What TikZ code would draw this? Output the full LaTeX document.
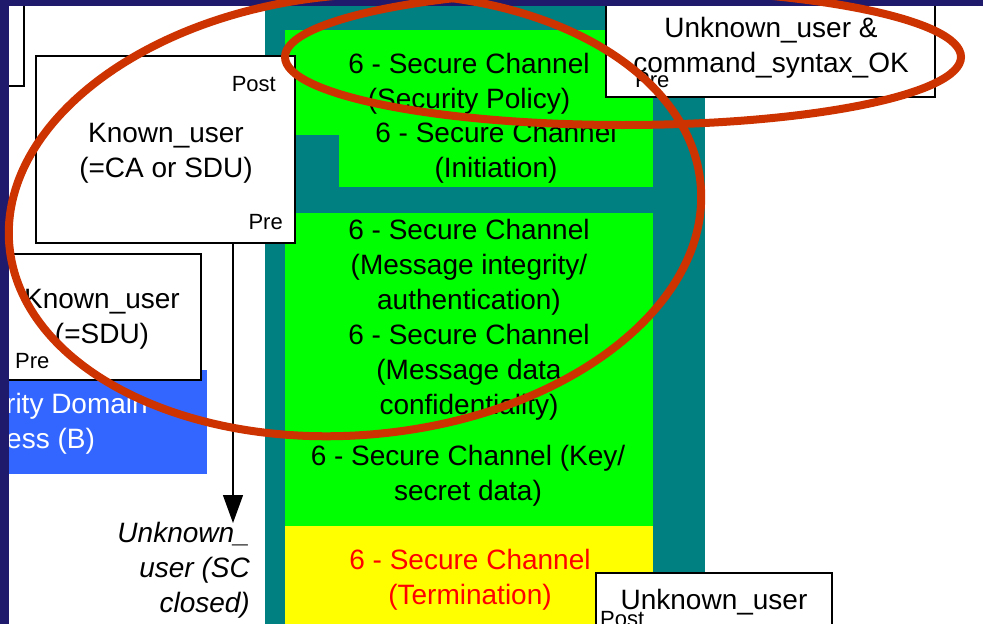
\documentclass[tikz,border=0pt]{standalone}
\usepackage{fontspec}
\setmainfont{Liberation Sans}
\usetikzlibrary{arrows.meta}
\definecolor{navy}{RGB}{31,26,108}
\definecolor{tealc}{RGB}{0,128,128}
\definecolor{greenc}{RGB}{0,255,0}
\definecolor{yellowc}{RGB}{255,255,0}
\definecolor{bluec}{RGB}{51,102,255}
\definecolor{ringred}{RGB}{204,51,0}
\tikzset{
  wbox/.style={draw=black, fill=white, line width=1.2pt},
  big/.style={font=\fontsize{28}{35}\selectfont, align=center, inner sep=0pt},
  small/.style={font=\fontsize{22}{26}\selectfont, inner sep=0pt},
  ring/.style={draw=ringred, line width=8pt},
}
\begin{document}
\begin{tikzpicture}[x=1pt,y=-1pt]
\useasboundingbox (0,0) rectangle (983,624);
\fill[white] (0,0) rectangle (983,624);
% teal column
\fill[tealc] (265,0) rectangle (705,624);
% green areas
\fill[greenc] (285,30) rectangle (653,135);
\fill[greenc] (339,110) rectangle (653,187);
\fill[greenc] (285,213) rectangle (653,526);
\fill[yellowc] (285,526) rectangle (653,624);
% texts in column
\node[big] (sp) at (469,84) {6 - Secure Channel\\(Security Policy)};
\node[big] (ini) at (496,153) {6 - Secure Channel\\(Initiation)};
\node[big] (mi) at (469,267) {6 - Secure Channel\\(Message integrity/\\authentication)};
\node[big] (md) at (469,372) {6 - Secure Channel\\(Message data\\confidentiality)};
\node[big] (ks) at (468,476) {6 - Secure Channel (Key/\\secret data)};
\node[big, text=red] (term) at (470,580) {6 - Secure Channel\\(Termination)};
% top-left partial box
\draw[wbox] (-5,-5) rectangle (24,86);
% blue box
\fill[bluec] (0,370) rectangle (207,474);
\node[big, text=white, align=left, anchor=west] (sd) at (6,424) {rity Domain\\ess (B)};
% Known_user (=SDU)
\draw[wbox] (-5,254) rectangle (201,380);
\node[big] (ku2) at (102,319) {Known\_user\\(=SDU)};
\node[small, anchor=base west] (pre2) at (15,368) {Pre};
% Known_user (=CA or SDU)
\node[wbox, minimum width=259pt, minimum height=187pt, inner sep=0pt] (ku1) at (165.5,149.5) {};
\node[big] (ku1t) at (166,153) {Known\_user\\(=CA or SDU)};
\node[small, anchor=base east] (post1) at (276,91) {Post};
\node[small, anchor=base east] (pre1) at (283,229) {Pre};
% arrow
\coordinate (arrEnd) at (233,523);
\draw[line width=1.2pt, -{Triangle[width=20pt,length=28pt]}] (ku1.south -| arrEnd) -- (arrEnd);
\node[big, align=right, anchor=east, font=\fontsize{28}{35}\selectfont\itshape] (uu) at (250,570) {Unknown\_\\user (SC\\closed)};
% Unknown_user & command_syntax_OK
\draw[wbox] (606,-5) rectangle (935,97);
\node[big] (ucs) at (771,48) {Unknown\_user \&\\command\_syntax\_OK};
\node[small, anchor=base west] (pre3) at (635,87) {Pre};
% Unknown_user bottom
\draw[wbox] (596,573) rectangle (832,640);
\node[big, anchor=base] (ub) at (714,609) {Unknown\_user};
\node[small, anchor=base west] (post3) at (600,626) {Post};
% navy border
\fill[navy] (0,0) rectangle (983,6);
\fill[navy] (0,0) rectangle (9,624);
% red rings
\draw[ring] (355,215) ellipse[x radius=347, y radius=220, rotate=5];
\draw[ring] (623,57) ellipse[x radius=338, y radius=68];
\end{tikzpicture}
\end{document}
